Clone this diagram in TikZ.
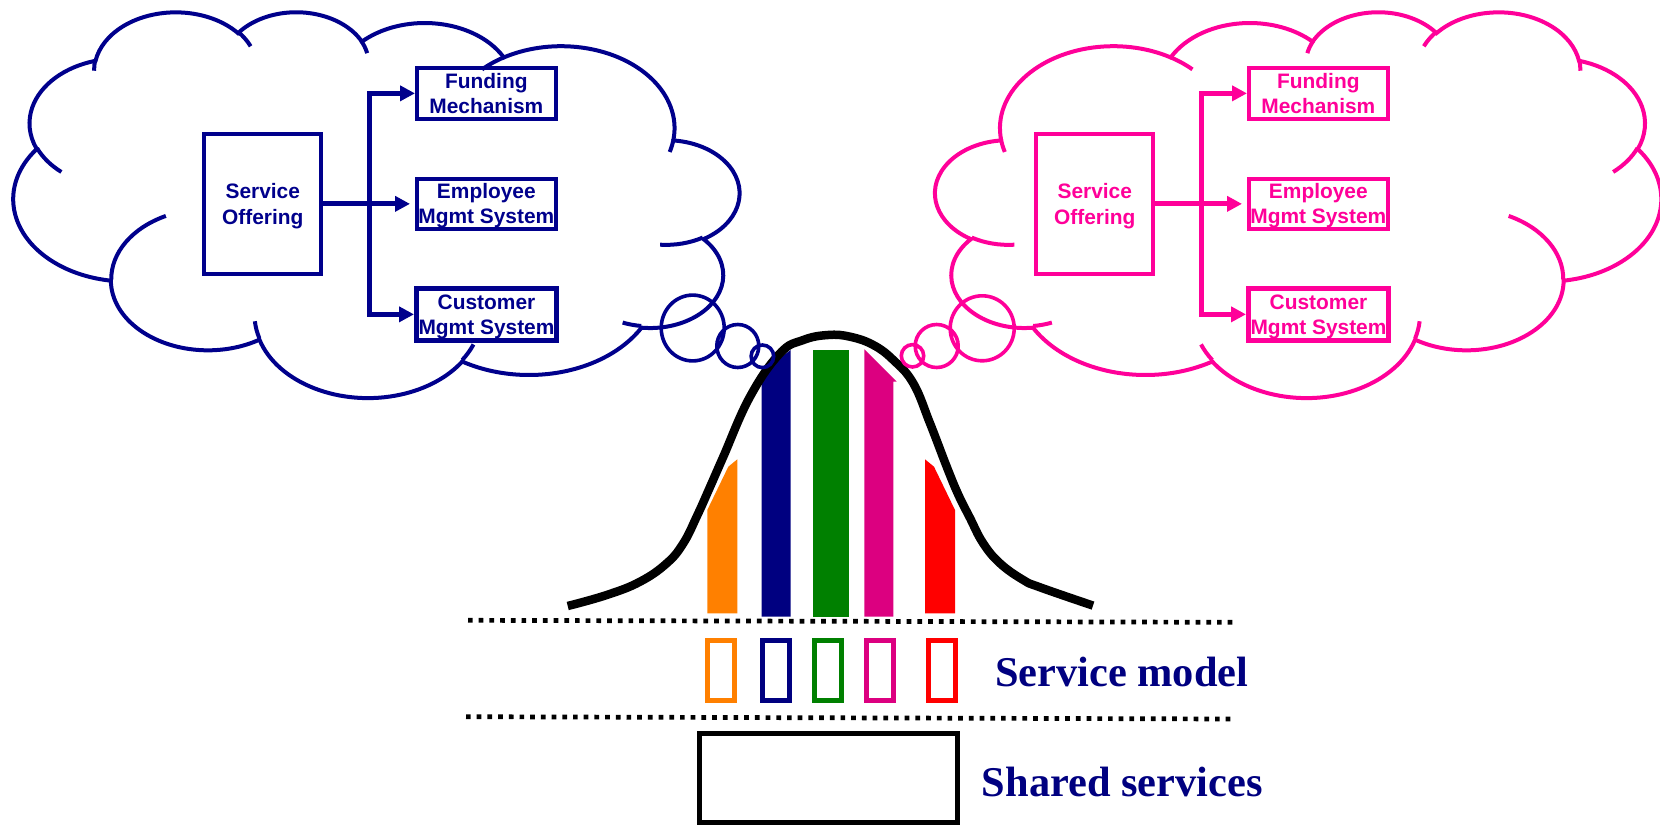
\documentclass[tikz,border=0pt]{standalone}
\usepackage{fontspec}
\setmainfont{Liberation Serif}
\newfontfamily\arialfam{Liberation Sans}
\usetikzlibrary{arrows.meta}

\definecolor{cloudblue}{RGB}{0,0,140}
\definecolor{cloudpink}{RGB}{255,0,153}
\definecolor{barnavy}{RGB}{0,0,128}
\definecolor{barorange}{RGB}{255,128,0}
\definecolor{bargreen}{RGB}{0,128,0}
\definecolor{barmagenta}{RGB}{220,0,128}
\definecolor{barred}{RGB}{255,0,0}

% One arc of the cloud outline: x radius, y radius, start angle and sweep,
% the angles given as directions of the ray from the ellipse centre.
\newcommand\cloudarc[4]{arc[x radius=#1, y radius=#2,
  start angle={atan2((#1)*sin(#3),(#2)*cos(#3))},
  delta angle={mod(atan2((#1)*sin((#3)+(#4)),(#2)*cos((#3)+(#4)))-atan2((#1)*sin(#3),(#2)*cos(#3))+720,360)}]}

% Cloud outline and its inner tails, drawn in a 4320 x 4320 frame
\newcommand\cloudoutline{%
  \draw (390,1437)
    \cloudarc{675.3}{919.0}{-190.4875}{123.7805}
    \cloudarc{533.3}{726.7}{-144.1024}{89.9452}
    \cloudarc{436.5}{594.5}{-145.8079}{99.7230}
    \cloudarc{485.7}{659.5}{-130.9861}{117.2417}
    \cloudarc{533.3}{727.3}{-78.7089}{109.0269}
    \cloudarc{677.5}{922.0}{-46.2673}{130.2690}
    \cloudarc{578.5}{786.7}{0.6250}{114.0333}
    \cloudarc{675.2}{921.5}{22.4516}{115.1726}
    \cloudarc{772.0}{1054.3}{66.2426}{75.7110}
    \cloudarc{436.0}{591.8}{-274.9421}{146.7356}
    \cloudarc{434.5}{594.5}{-246.8285}{152.5189} -- cycle;
  \draw (469.3,2617.7) \cloudarc{434.5}{594.5}{86.7420}{26.4295}
        (692.8,3489.9) \cloudarc{436.0}{591.8}{73.6105}{11.4475}
        (1647.8,3909.0) \cloudarc{675.2}{921.5}{137.6242}{14.0811}
        (2882.7,3475.1) \cloudarc{675.2}{921.5}{6.4533}{15.9984}
        (3412.9,2295.4) \cloudarc{578.5}{786.7}{-70.2924}{70.9174}
        (4179.8,1535.4) \cloudarc{533.3}{727.3}{30.3180}{27.7515}
        (3832.4,542.6) \cloudarc{485.7}{659.5}{-13.7443}{14.8589}
        (2907.8,395.2) \cloudarc{485.7}{659.5}{-149.1815}{18.1954}
        (2214.1,472.0) \cloudarc{436.5}{594.5}{-163.4943}{17.6864}
        (1400.0,519.2) \cloudarc{675.3}{919.0}{-66.7070}{12.3194}
        (412.7,1578.9) \cloudarc{675.3}{919.0}{157.6544}{11.8582};
}

\tikzset{
  cloudline/.style={line width=4pt},
  offerbox/.style={draw, line width=4pt, minimum width=117pt, minimum height=140.3pt,
    inner sep=0pt, align=center, text depth=0pt,
    font=\arialfam\bfseries\fontsize{20.9}{26}\selectfont},
  partbox/.style={draw, line width=4pt, minimum width=138.7pt, minimum height=50.5pt,
    inner sep=0pt, align=center, text depth=0pt,
    font=\arialfam\bfseries\fontsize{20.9}{25}\selectfont},
  heavybox/.style={partbox, line width=5pt, minimum width=140pt, minimum height=51.7pt},
  conn/.style={line width=5pt, -{Triangle[length=15pt,width=15pt]}},
  modelbox/.style={draw, line width=5pt, minimum width=27pt, minimum height=59.4pt, inner sep=0pt},
  dotline/.style={line width=4.7pt, dash pattern=on 4.7pt off 6pt},
  layertext/.style={font=\bfseries\fontsize{42.4}{50}\selectfont, text=barnavy, inner sep=0pt, anchor=base west}
}

\begin{document}
\begin{tikzpicture}[x=1pt, y=1pt, yscale=-1]
\useasboundingbox[fill=white] (0,0) rectangle (1660,828);

% bars under the bell curve
\fill[barorange] (707.3,613.3) -- (707.3,510) -- (728.3,466.7) -- (737.3,459.3) -- (737.3,613.3) -- cycle;
\fill[barnavy] (761.7,616.7) -- (761.7,381) -- (776,361) -- (790.7,350) -- (790.7,616.7) -- cycle;
\fill[bargreen] (813.3,350) rectangle (848.7,616.7);
\fill[barmagenta] (864.3,616.7) -- (864.3,349.3) -- (896.7,381.7) -- (893.3,381.7) -- (893.3,616.7) -- cycle;
\fill[barred] (925,613.3) -- (925,459.3) -- (934,466.7) -- (955,510) -- (955,613.3) -- cycle;

% bell curve
\draw[line width=8.5pt] plot[smooth, tension=0.7] coordinates {
  (567.7,606) (606.7,595) (640,581.7) (666.7,563.3) (683.3,543.3) (697,516)
  (710,487) (723.3,456.7) (750,396.7) (780,353.3) (803.3,340) (828,335) (850,336.7)
  (873.3,345) (893.3,360) (913.3,383.3) (930,423.3) (946.7,466.7) (958,494)
  (970,518) (983,543) (1000,563.3) (1023.3,580) (1040,587.3) (1093,605.6)};

% left thought cloud
\begin{scope}[shift={(739,11)}, xscale=-0.16794, yscale=0.089282, cloudline, draw=cloudblue]
  \cloudoutline
\end{scope}
\draw[cloudblue, line width=3.6pt] (692.7,328) ellipse [x radius=31.5, y radius=32.9]
  (737.8,346) ellipse [x radius=21, y radius=21.5]
  (762.4,356.3) circle [radius=11.3];

% right thought cloud
\begin{scope}[shift={(935.5,11)}, xscale=0.16794, yscale=0.089282, cloudline, draw=cloudpink]
  \cloudoutline
\end{scope}
\draw[cloudpink, line width=3.6pt] (982.2,328.3) ellipse [x radius=32, y radius=32.5]
  (936.7,346) ellipse [x radius=21.5, y radius=21.5]
  (912.5,355.8) circle [radius=11.2];

% left service offering
\begin{scope}[cloudblue]
  \node[offerbox] (lso) at (262.8,203.85) {Service\\Offering};
  \node[partbox] (lfund) at (486.35,93.35) {Funding\\Mechanism};
  \node[partbox] (lemp) at (486.35,203.85) {Employee\\Mgmt System};
  \node[heavybox] (lcust) at (486.5,314.35) {Customer\\Mgmt System};
  \coordinate (ljoin) at (369.3,203.85);
  \draw[conn, shorten >=5pt] (lso.east) -- (lemp.west);
  \draw[conn] (ljoin) |- (lfund.west);
  \draw[conn] (ljoin) |- (lcust.west);
\end{scope}

% right service offering
\begin{scope}[cloudpink]
  \node[offerbox] (rso) at (1094.8,203.85) {Service\\Offering};
  \node[partbox] (rfund) at (1318.35,93.35) {Funding\\Mechanism};
  \node[partbox] (remp) at (1318.35,203.85) {Employee\\Mgmt System};
  \node[heavybox] (rcust) at (1318.5,314.35) {Customer\\Mgmt System};
  \coordinate (rjoin) at (1201.3,203.85);
  \draw[conn, shorten >=5pt] (rso.east) -- (remp.west);
  \draw[conn] (rjoin) |- (rfund.west);
  \draw[conn] (rjoin) |- (rcust.west);
\end{scope}

% layer separators
\coordinate (sepA1) at (468,620.3);
\coordinate (sepA2) at (1236,622.3);
\coordinate (sepB1) at (466,716.7);
\coordinate (sepB2) at (1233,719);
\draw[dotline] (sepA1) -- (sepA2);
\draw[dotline] (sepB1) -- (sepB2);

% service model layer
\node[modelbox, draw=barorange] (morange) at (720.85,670.5) {};
\node[modelbox, draw=barnavy] (mnavy) at (776.15,670.5) {};
\node[modelbox, draw=bargreen] (mgreen) at (828,670.5) {};
\node[modelbox, draw=barmagenta] (mmagenta) at (879.5,670.5) {};
\node[modelbox, draw=barred] (mred) at (941.7,670.5) {};
\node[layertext] (modeltext) at (995,686) {Service model};

% shared services layer
\node[draw, line width=5pt, minimum width=257.7pt, minimum height=89pt, inner sep=0pt] (shared) at (828.65,778) {};
\node[layertext] (sharedtext) at (981.7,796) {Shared services};
\end{tikzpicture}
\end{document}
